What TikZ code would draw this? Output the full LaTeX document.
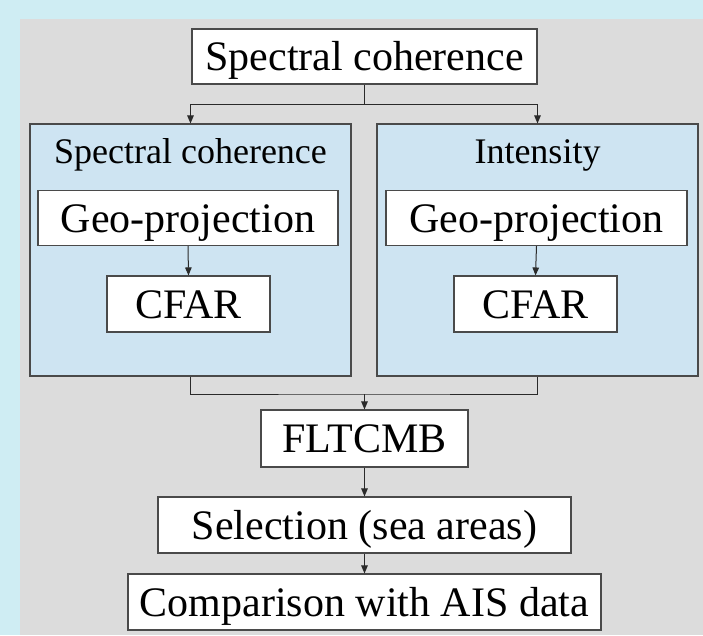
\documentclass[tikz,border=0pt]{standalone}
\usepackage{fontspec}
\setmainfont{Liberation Serif}
\usetikzlibrary{arrows.meta}
\definecolor{bgcyan}{HTML}{CFEDF3}
\definecolor{panelgray}{HTML}{DCDCDC}
\definecolor{boxblue}{HTML}{CEE4F2}
\definecolor{edgegray}{HTML}{4A4A4A}
\definecolor{linegray}{HTML}{2A2A2A}
\begin{document}
\begin{tikzpicture}[x=1pt,y=-1pt,
  wbox/.style={draw=edgegray, line width=1.1pt, fill=white, inner sep=0pt,
    font=\fontsize{42}{48}\selectfont, text height=28pt, text depth=0pt},
  groupbox/.style={draw=edgegray, line width=1.1pt, fill=boxblue, inner sep=0pt},
  grouptitle/.style={anchor=base, inner sep=0pt, font=\fontsize{36}{42}\selectfont},
  conn/.style={draw=linegray, line width=1pt},
  arr/.style={conn, -{Triangle[length=8pt,width=6.5pt]}}]
\fill[bgcyan] (0,0) rectangle (703,635);
\fill[panelgray] (20,19) rectangle (703,635);
\useasboundingbox (0,0) rectangle (703,635);

\node[wbox, minimum width=345pt, minimum height=55pt] (top) at (364.5,56.5) {Spectral coherence};

\node[groupbox, minimum width=321pt, minimum height=252pt] (L) at (190.5,250) {};
\node[groupbox, minimum width=321pt, minimum height=252pt] (R) at (537.5,250) {};
\node[grouptitle] (Lt) at (190.5,163) {Spectral coherence};
\node[grouptitle] (Rt) at (537.5,163) {Intensity};

\node[wbox, minimum width=300pt, minimum height=55pt] (Lg) at (188,218) {Geo-projection};
\node[wbox, minimum width=301pt, minimum height=55pt] (Rg) at (536.5,218) {Geo-projection};
\node[wbox, minimum width=163pt, minimum height=56pt] (Lc) at (188.5,304) {CFAR};
\node[wbox, minimum width=163pt, minimum height=56pt] (Rc) at (535.5,304) {CFAR};

\node[wbox, minimum width=207pt, minimum height=57pt] (flt) at (364.5,438.5) {FLTCMB};
\node[wbox, minimum width=413pt, minimum height=56pt] (sel) at (364.5,525) {Selection (sea areas)};
\node[wbox, minimum width=473pt, minimum height=56pt] (cmp) at (364.5,602) {Comparison with AIS data};

\coordinate (split) at (364.5,104);
\coordinate (join) at (364.5,394);

\draw[conn] (top.south) -- (split);
\draw[arr] (split) -| (L.north);
\draw[arr] (split) -| (R.north);
\draw[arr] (Lg.south) -- (Lc.north);
\draw[arr] (Rg.south) -- (Rc.north);
\draw[conn] (L.south) |- (join) -| (R.south);
\draw[arr] (join) -- (flt.north);
\draw[arr] (flt.south) -- (sel.north);
\draw[arr] (sel.south) -- (cmp.north);
\end{tikzpicture}
\end{document}
